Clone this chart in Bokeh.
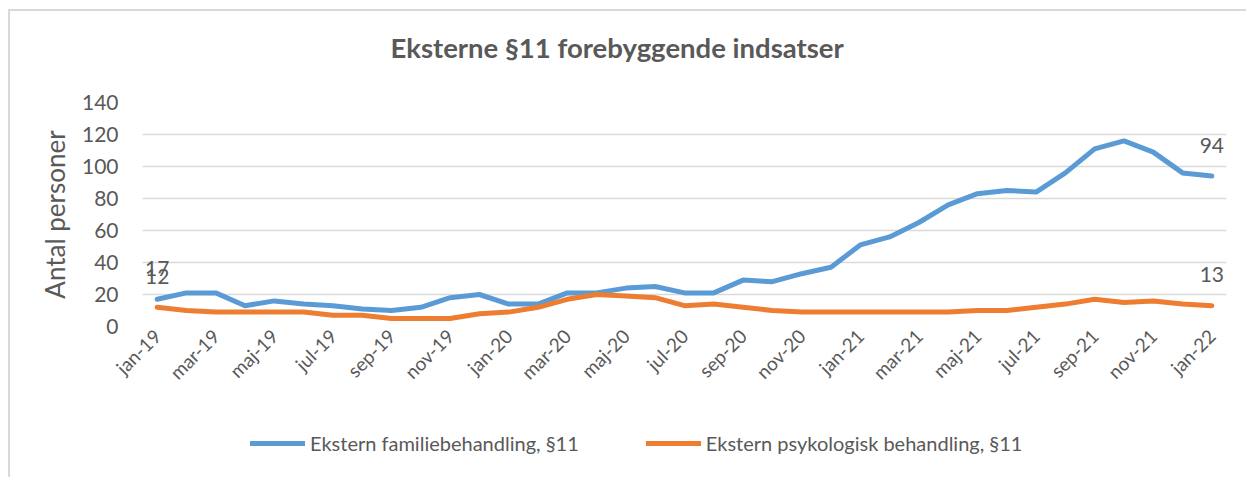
import math
import numpy as np
from bokeh.plotting import figure
from bokeh.layouts import column
from bokeh.models import (ColumnDataSource, FixedTicker, Legend, LegendItem,
                          Title, Range1d)
from bokeh.embed import file_html
from bokeh.resources import INLINE
from bokeh.core.properties import value

# ---- data ----
months = ["jan-19", "feb-19", "mar-19", "apr-19", "maj-19", "jun-19", "jul-19",
          "aug-19", "sep-19", "okt-19", "nov-19", "dec-19",
          "jan-20", "feb-20", "mar-20", "apr-20", "maj-20", "jun-20", "jul-20",
          "aug-20", "sep-20", "okt-20", "nov-20", "dec-20",
          "jan-21", "feb-21", "mar-21", "apr-21", "maj-21", "jun-21", "jul-21",
          "aug-21", "sep-21", "okt-21", "nov-21", "dec-21",
          "jan-22"]
familie = [17, 21, 21, 13, 16, 14, 13, 11, 10, 12, 18, 20,
           14, 14, 21, 21, 24, 25, 21, 21, 29, 28, 33, 37,
           51, 56, 65, 76, 83, 85, 84, 96, 111, 116, 109, 96,
           94]
psyk = [12, 10, 9, 9, 9, 9, 7, 7, 5, 5, 5, 8,
        9, 12, 17, 20, 19, 18, 13, 14, 12, 10, 9, 9,
        9, 9, 9, 9, 10, 10, 12, 14, 17, 15, 16, 14,
        13]
series_names = ["Ekstern familiebehandling, §11", "Ekstern psykologisk behandling, §11"]
title_text = "Eksterne §11 forebyggende indsatser"
y_label = "Antal personer"
y_ticks = [0, 20, 40, 60, 80, 100, 120, 140]

FONT = "Lato"
TXT = "#595959"
BLUE = "#5B9BD5"
ORANGE = "#ED7D31"
W = 1236

# ---- title strip ----
p0 = figure(width=W, height=70, output_backend="svg", toolbar_location=None,
            x_axis_location=None, y_axis_location=None,
            x_range=Range1d(0, 1), y_range=Range1d(0, 1),
            min_border_left=0, min_border_right=0, min_border_top=0,
            min_border_bottom=0)
p0.grid.visible = False
p0.outline_line_color = None
p0.title = Title(text=title_text, align="left", offset=248, standoff=35,
                 text_font=FONT, text_font_size="27.5px", text_font_style="bold",
                 text_color=TXT)

# ---- main chart ----
x = list(range(len(months)))
src = ColumnDataSource(dict(x=x, fam=familie, psy=psyk))

p = figure(width=W, height=346,
           x_range=Range1d(-0.5, len(months) - 0.5), y_range=Range1d(0, 140),
           output_backend="svg", toolbar_location=None,
           min_border_left=132, min_border_right=20,
           min_border_top=21, min_border_bottom=101)
p.outline_line_color = None

p.xgrid.visible = False
p.ygrid.grid_line_color = "#d9d9d9"
p.ygrid.grid_line_width = 1.5

ya = p.yaxis[0]
ya.ticker = FixedTicker(ticks=y_ticks)
ya.axis_line_color = None
ya.major_tick_line_color = None
ya.minor_tick_line_color = None
ya.major_tick_out = 0
ya.major_tick_in = 0
ya.major_label_standoff = 24
ya.major_label_text_font = FONT
ya.major_label_text_font_size = "21px"
ya.major_label_text_color = TXT
ya.axis_label = y_label
ya.axis_label_text_font = FONT
ya.axis_label_text_font_size = "26px"
ya.axis_label_text_font_style = "normal"
ya.axis_label_text_color = TXT
ya.axis_label_standoff = 8

xa = p.xaxis[0]
xa.ticker = FixedTicker(ticks=x[::2])
xa.major_label_overrides = {i: months[i] for i in x[::2]}
xa.major_label_orientation = math.pi / 4
xa.axis_line_color = None
xa.major_tick_line_color = None
xa.minor_tick_line_color = None
xa.major_tick_out = 0
xa.major_tick_in = 0
xa.major_label_standoff = 6
xa.major_label_text_font = FONT
xa.major_label_text_font_size = "19px"
xa.major_label_text_color = TXT

p.line("x", "fam", source=src, line_color=BLUE, line_width=5,
       line_join="round", line_cap="round")
p.line("x", "psy", source=src, line_color=ORANGE, line_width=5,
       line_join="round", line_cap="round")

lab = ColumnDataSource(dict(
    x=[x[0], x[-1], x[0], x[-1]],
    y=[familie[0], familie[-1], psyk[0], psyk[-1]],
    t=[str(familie[0]), str(familie[-1]), str(psyk[0]), str(psyk[-1])]))
p.text("x", "y", text="t", source=lab, text_align="center",
       text_baseline="middle", y_offset=-31, text_font=value(FONT),
       text_font_size="21px", text_color=TXT)

# ---- legend strip ----
p2 = figure(width=W, height=50, output_backend="svg", toolbar_location=None,
            x_axis_location=None, y_axis_location=None,
            x_range=Range1d(0, 1), y_range=Range1d(0, 1),
            min_border_left=0, min_border_right=0, min_border_top=0,
            min_border_bottom=0)
p2.grid.visible = False
p2.outline_line_color = None
nan_src = ColumnDataSource(dict(x=np.array([0.0]), y=np.array([np.nan])))
lr1 = p2.line("x", "y", source=nan_src, line_color=BLUE, line_width=5,
              line_cap="round")
lr2 = p2.line("x", "y", source=nan_src, line_color=ORANGE, line_width=5,
              line_cap="round")
legend = Legend(items=[LegendItem(label=series_names[0], renderers=[lr1]),
                       LegendItem(label=series_names[1], renderers=[lr2])],
                orientation="horizontal", location=(108, 22),
                padding=0, margin=0, spacing=67, glyph_width=55,
                glyph_height=20, label_height=20, label_standoff=5,
                border_line_color=None, background_fill_alpha=0,
                label_text_font=FONT, label_text_font_size="20px",
                label_text_color=TXT)
p2.add_layout(legend)

layout = column(p0, p, p2, spacing=0,
                styles={"border-left": "2px solid #d9d9d9",
                        "border-top": "2px solid #d9d9d9",
                        "margin-left": "8px", "margin-top": "9px"})

open("out.html", "w").write(file_html(layout, INLINE))
